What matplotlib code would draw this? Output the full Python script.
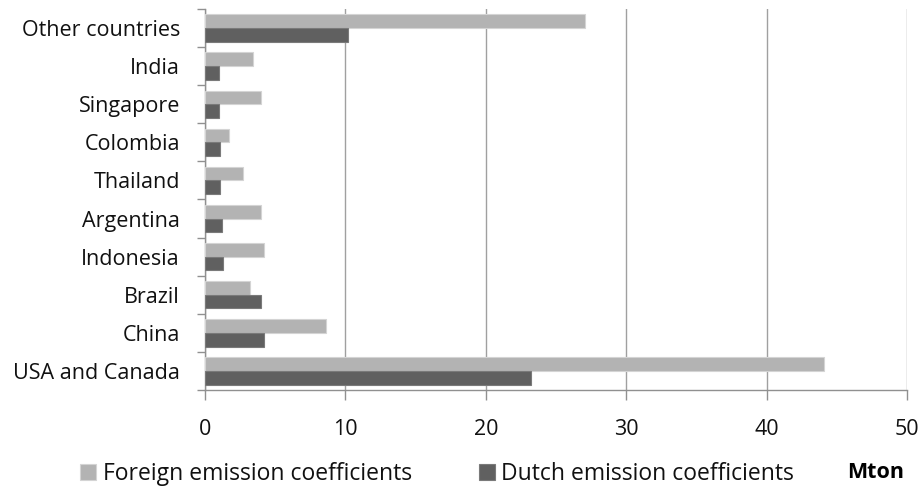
import matplotlib.pyplot as plt
import numpy as np

# Données (Mton)
countries = ['USA and Canada', 'China', 'Brazil', 'Indonesia', 'Argentina',
             'Thailand', 'Colombia', 'Singapore', 'India', 'Other countries']
foreign = [44.1, 8.6, 3.2, 4.2, 4.0, 2.7, 1.7, 4.0, 3.4, 27.1]
dutch = [23.2, 4.2, 4.0, 1.3, 1.2, 1.1, 1.1, 1.0, 1.0, 10.2]
xticks = [0, 10, 20, 30, 40, 50]

plt.rcParams['font.family'] = ['Open Sans', 'DejaVu Sans']

fig = plt.figure(figsize=(9.22, 4.87), dpi=100)
ax = fig.add_axes([0.2223, 0.1992, 0.7614, 0.7823])

y = np.arange(len(countries))
h = 0.36
ax.barh(y + h / 2, foreign, height=h, color='#b3b3b3', edgecolor='#d4d4d4', linewidth=0.8,
        label='Foreign emission coefficients', zorder=3)
ax.barh(y - h / 2, dutch, height=h, color='#606060', edgecolor='#7a7a7a', linewidth=0.8,
        label='Dutch emission coefficients', zorder=3)

ax.set_xlim(0, 50)
ax.set_ylim(-0.5, len(countries) - 0.5)
ax.set_xticks(xticks)
ax.set_yticks(y)
ax.set_yticklabels(countries)
ax.set_yticks(np.arange(-0.5, len(countries)), minor=True)
ax.tick_params(axis='y', which='major', length=0, pad=18, labelsize=15.5, labelcolor='#111111')
ax.tick_params(axis='y', which='minor', length=6, color='#909090', width=1)
ax.tick_params(axis='x', length=7, color='#909090', width=1, labelsize=15.5, pad=14,
               labelcolor='#111111')

ax.grid(axis='x', color='#a0a0a0', linewidth=1, zorder=0)
for s in ['top', 'right']:
    ax.spines[s].set_visible(False)
for s in ['left', 'bottom']:
    ax.spines[s].set_color('#909090')
    ax.spines[s].set_linewidth(1)

leg = fig.legend(loc='center left', bbox_to_anchor=(0.0868, 0.026), ncol=2, frameon=False,
                 fontsize=16.5, handlelength=0.7, handleheight=0.7, handletextpad=0.3,
                 columnspacing=2.9, borderaxespad=0, borderpad=0)
for t in leg.get_texts():
    t.set_color('#111111')
fig.text(0.981, 0.029, 'Mton', fontsize=15.5, fontweight='bold', ha='right', va='center')

plt.savefig('out.png', dpi=100)
